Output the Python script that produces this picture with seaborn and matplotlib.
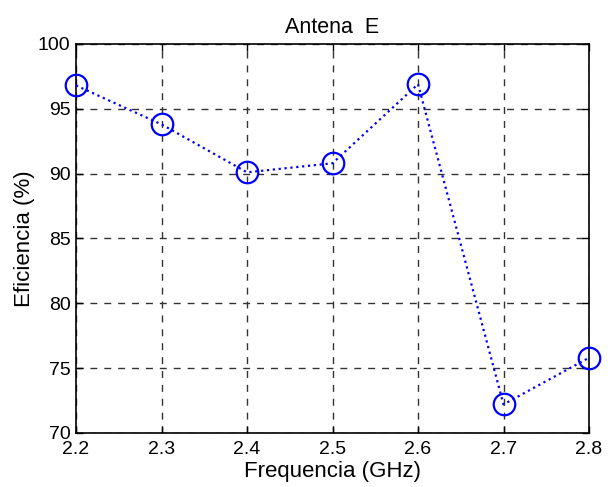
import matplotlib
matplotlib.use("Agg")
import matplotlib.pyplot as plt
import seaborn as sns
import pandas as pd

freq_ghz = [2.2, 2.3, 2.4, 2.5, 2.6, 2.7, 2.8]
efficiency = [96.8, 93.8, 90.1, 90.8, 96.9, 72.2, 75.8]
x_ticks = [2.2, 2.3, 2.4, 2.5, 2.6, 2.7, 2.8]
y_ticks = [70, 75, 80, 85, 90, 95, 100]

sns.set_theme(style="white")
plt.rcParams["font.family"] = ["Liberation Sans", "DejaVu Sans"]
plt.rcParams["text.color"] = "black"
plt.rcParams["axes.labelcolor"] = "black"

df = pd.DataFrame({"f": freq_ghz, "e": efficiency})

fig = plt.figure(figsize=(6.11, 4.87), dpi=100)
ax = fig.add_axes([0.1244, 0.111, 0.8396, 0.7987])

sns.lineplot(data=df, x="f", y="e", ax=ax, color="#0000ff", linestyle=":",
             linewidth=1.6, marker="o", markersize=15.5, markerfacecolor="none",
             markeredgecolor="#0000ff", markeredgewidth=1.6, zorder=3,
             clip_on=False)

ax.set_xlim(2.2, 2.8)
ax.set_ylim(70, 100)
ax.set_xticks(x_ticks)
ax.set_xticklabels([f"{v:.1f}" for v in x_ticks])
ax.set_yticks(y_ticks)
ax.set_yticklabels([str(v) for v in y_ticks])

ax.grid(True, color="#333333", linestyle=(0, (5, 5)), linewidth=1.0)
ax.set_axisbelow(True)
for s in ax.spines.values():
    s.set_color("black")
    s.set_linewidth(1.2)

ax.tick_params(direction="in", length=5, width=1.0, top=True, right=True,
               bottom=True, left=True, labelsize=14, colors="black")
ax.tick_params(axis="x", pad=6)
ax.tick_params(axis="y", pad=4)

ax.set_title("Antena  E", fontsize=15.5, pad=8)
ax.set_xlabel("Frequencia (GHz)", fontsize=16, labelpad=2)
ax.set_ylabel("Eficiencia (%)", fontsize=16, labelpad=2)

fig.savefig("out.png", dpi=100)
